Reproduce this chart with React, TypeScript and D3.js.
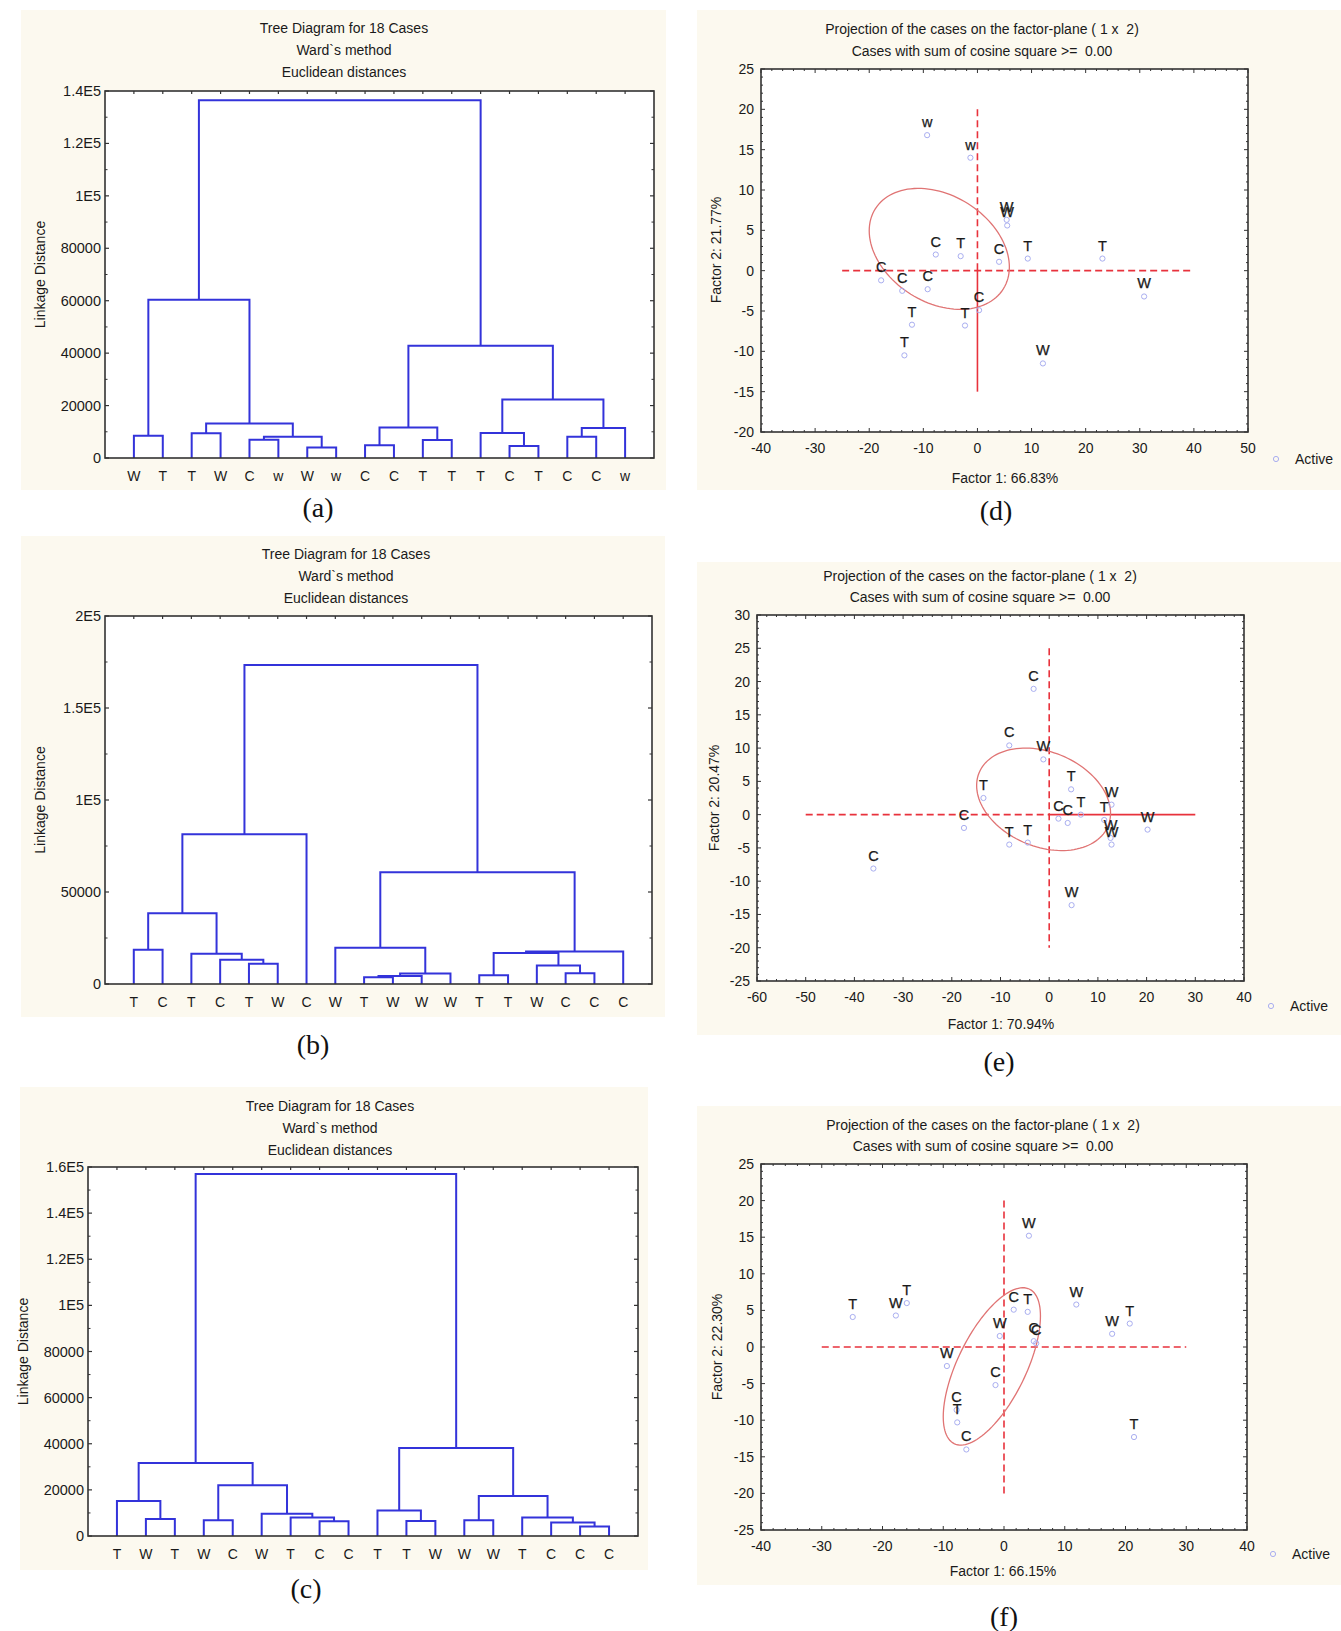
import React from "react";
import * as d3 from "d3";

// ---------- DATA ----------
// Dendrogram (a)
const leavesA = ["W","T","T","W","C","w","W","w","C","C","T","T","T","C","T","C","C","w"];
const mergesA: [number, number, number][] = [
  [0,1,8500],[2,3,9400],[4,5,7000],[6,7,4000],[20,21,8100],[19,22,13200],[18,23,60400],
  [8,9,4900],[10,11,6900],[25,26,11600],[13,14,4600],[12,28,9500],[15,16,8100],[30,17,11400],
  [29,31,22300],[27,32,42800],[24,33,136500]
];
const yTicksA = [0,20000,40000,60000,80000,100000,120000,140000];
const yTickLabelsA = ["0","20000","40000","60000","80000","1E5","1.2E5","1.4E5"];

// Dendrogram (b)
const leavesB = ["T","C","T","C","T","W","C","W","T","W","W","W","T","T","W","C","C","C"];
const mergesB: [number, number, number][] = [
  [0,1,18600],[4,5,11000],[3,19,13200],[2,20,16500],[18,21,38400],[22,6,81400],
  [8,9,3700],[24,10,4400],[25,11,5700],[7,26,19700],[12,13,4700],[15,16,5800],[14,29,10100],
  [28,30,16800],[31,17,17700],[27,32,60800],[23,33,173400]
];
const yTicksB = [0,50000,100000,150000,200000];
const yTickLabelsB = ["0","50000","1E5","1.5E5","2E5"];

// Dendrogram (c)
const leavesC = ["T","W","T","W","C","W","T","C","C","T","T","W","W","W","T","C","C","C"];
const mergesC: [number, number, number][] = [
  [1,2,7400],[0,18,15200],[3,4,6800],[7,8,6400],[6,21,8000],[5,22,9600],[20,23,22000],
  [19,24,31700],[10,11,6500],[9,26,11100],[12,13,6800],[16,17,4100],[15,29,5800],[14,30,8000],
  [28,31,17300],[27,32,38200],[25,33,157000]
];
const yTicksC = [0,20000,40000,60000,80000,100000,120000,140000,160000];
const yTickLabelsC = ["0","20000","40000","60000","80000","1E5","1.2E5","1.4E5","1.6E5"];

// Scatter (d)
const pointsD: [number, number, string][] = [
  [-9.3,16.8,"w"],[-1.3,14.0,"w"],[5.4,6.3,"W"],[5.5,5.6,"W"],[-7.7,2.0,"C"],[-3.1,1.8,"T"],
  [4.0,1.1,"C"],[9.3,1.5,"T"],[23.1,1.5,"T"],[-17.8,-1.2,"C"],[-13.9,-2.5,"C"],[-9.2,-2.3,"C"],
  [30.8,-3.2,"W"],[0.3,-4.9,"C"],[-12.1,-6.7,"T"],[-2.3,-6.8,"T"],[-13.5,-10.5,"T"],[12.1,-11.5,"W"]
];
const xTicksD = [-40,-30,-20,-10,0,10,20,30,40,50];
const yTicksD = [-20,-15,-10,-5,0,5,10,15,20,25];
const ellipseD = { cx: -7.05, cy: 2.7, ax: 12.95, ay: 7.5, rho: -0.3 };
const refLinesD = [
  { x1: -25, y1: 0, x2: 40, y2: 0, dashed: true },
  { x1: 0, y1: 20, x2: 0, y2: 0, dashed: true },
  { x1: 0, y1: 0, x2: 0, y2: -15, dashed: false },
];

// Scatter (e)
const pointsE: [number, number, string][] = [
  [-3.2,18.9,"C"],[-8.2,10.4,"C"],[-1.2,8.3,"W"],[-13.5,2.5,"T"],[4.5,3.8,"T"],[12.8,1.5,"W"],
  [6.5,0.0,"T"],[1.9,-0.6,"C"],[3.8,-1.25,"C"],[11.3,-0.8,"T"],[12.6,-3.5,"W"],[12.8,-4.5,"W"],
  [20.2,-2.25,"W"],[-17.5,-2.0,"C"],[-8.2,-4.5,"T"],[-4.4,-4.2,"T"],[-36.1,-8.1,"C"],[4.6,-13.6,"W"]
];
const xTicksE = [-60,-50,-40,-30,-20,-10,0,10,20,30,40];
const yTicksE = [-25,-20,-15,-10,-5,0,5,10,15,20,25,30];
const ellipseE = { cx: -1.15, cy: 2.3, ax: 13.75, ay: 7.7, rho: -0.27 };
const refLinesE = [
  { x1: -50, y1: 0, x2: 0, y2: 0, dashed: true },
  { x1: 0, y1: 0, x2: 30, y2: 0, dashed: false },
  { x1: 0, y1: 25, x2: 0, y2: -20, dashed: true },
];

// Scatter (f)
const pointsF: [number, number, string][] = [
  [4.1,15.2,"W"],[-24.9,4.1,"T"],[-17.8,4.3,"W"],[-16.0,6.0,"T"],[1.6,5.1,"C"],[3.9,4.8,"T"],
  [11.9,5.8,"W"],[-0.7,1.5,"W"],[4.9,0.8,"C"],[5.3,0.5,"C"],[17.8,1.8,"W"],[20.7,3.2,"T"],
  [-9.4,-2.6,"W"],[-1.4,-5.2,"C"],[-7.8,-8.6,"C"],[-7.7,-10.3,"T"],[-6.2,-14.0,"C"],[21.4,-12.3,"T"]
];
const xTicksF = [-40,-30,-20,-10,0,10,20,30,40];
const yTicksF = [-25,-20,-15,-10,-5,0,5,10,15,20,25];
const ellipseF = { cx: -2.0, cy: -2.65, ax: 8.0, ay: 10.75, rho: 0.64 };
const refLinesF = [
  { x1: -30, y1: 0, x2: 30, y2: 0, dashed: true },
  { x1: 0, y1: 20, x2: 0, y2: -20, dashed: true },
];

const dendroTitles = ["Tree Diagram for 18 Cases", "Ward`s method", "Euclidean distances"];
const scatterTitles = ["Projection of the cases on the factor-plane ( 1 x  2)", "Cases with sum of cosine square >=  0.00"];

// ---------- STYLE ----------
const FONT = "'Liberation Sans', Arial, sans-serif";
const SERIF = "'Liberation Serif', 'Times New Roman', serif";
const CREAM = "#fcf9ef";
const BLUE = "#3333da";
const RED = "#e8323c";
const TXT = "#1a1a1a";

type Frame = { l: number; t: number; r: number; b: number };
type Box = { x: number; y: number; w: number; h: number };

const pre = { whiteSpace: "pre" as const };

function Dendro(props: {
  leaves: string[]; merges: [number, number, number][]; yMax: number; yTicks: number[]; yTickLabels: string[];
  frame: Frame; bg: Box; titleX: number; titleYs: number[]; yLabelX: number; panel: string; panelPos: [number, number];
}) {
  const { leaves, merges, yMax, yTicks, yTickLabels, frame, bg, titleX, titleYs, yLabelX, panel, panelPos } = props;
  const x = d3.scaleLinear().domain([0, leaves.length + 1]).range([frame.l, frame.r]);
  const y = d3.scaleLinear().domain([0, yMax]).range([frame.b, frame.t]);
  const nodes: { x: number; h: number }[] = leaves.map((_, i) => ({ x: i + 1, h: 0 }));
  const paths: string[] = [];
  merges.forEach(([a, b, h]) => {
    const A = nodes[a], B = nodes[b];
    paths.push(`M${x(A.x)},${y(A.h)}V${y(h)}H${x(B.x)}V${y(B.h)}`);
    nodes.push({ x: (A.x + B.x) / 2, h });
  });
  const step = yTicks[1] - yTicks[0];
  const minor = d3.range(step / 2, yMax, step);
  return (
    <g>
      <rect x={bg.x} y={bg.y} width={bg.w} height={bg.h} fill={CREAM} />
      <rect x={frame.l} y={frame.t} width={frame.r - frame.l} height={frame.b - frame.t} fill="#fff" />
      {dendroTitles.map((t, i) => (
        <text key={i} x={titleX} y={titleYs[i]} textAnchor="middle" dominantBaseline="central" fontSize={14} fill={TXT} style={pre}>{t}</text>
      ))}
      {paths.map((p, i) => (
        <path key={i} d={p} fill="none" stroke={BLUE} strokeWidth={2} />
      ))}
      {yTicks.map((v, i) => (
        <g key={i}>
          <line x1={frame.l} x2={frame.l + 4} y1={y(v)} y2={y(v)} stroke="#333" strokeWidth={1.2} />
          <line x1={frame.r} x2={frame.r - 4} y1={y(v)} y2={y(v)} stroke="#333" strokeWidth={1.2} />
          <text x={frame.l - 4} y={y(v)} textAnchor="end" dominantBaseline="central" fontSize={14.5} fill={TXT}>{yTickLabels[i]}</text>
        </g>
      ))}
      {minor.map((v, i) => (
        <g key={"m" + i}>
          <line x1={frame.l} x2={frame.l + 2.5} y1={y(v)} y2={y(v)} stroke="#333" strokeWidth={1} />
          <line x1={frame.r} x2={frame.r - 2.5} y1={y(v)} y2={y(v)} stroke="#333" strokeWidth={1} />
        </g>
      ))}
      {leaves.map((lab, i) => (
        <g key={"l" + i}>
          <line x1={x(i + 1)} x2={x(i + 1)} y1={frame.t} y2={frame.t + 3} stroke="#333" strokeWidth={1.2} />
          <text x={x(i + 1)} y={frame.b + 18} textAnchor="middle" dominantBaseline="central" fontSize={14} fill={TXT}>{lab}</text>
        </g>
      ))}
      <rect x={frame.l} y={frame.t} width={frame.r - frame.l} height={frame.b - frame.t} fill="none" stroke="#333" strokeWidth={1.6} />
      <text transform={`translate(${yLabelX},${(frame.t + frame.b) / 2}) rotate(-90)`} textAnchor="middle" dominantBaseline="central" fontSize={14} fill={TXT}>Linkage Distance</text>
      <text x={panelPos[0]} y={panelPos[1]} textAnchor="middle" dominantBaseline="central" fontSize={28} fontFamily={SERIF} fill="#111">{panel}</text>
    </g>
  );
}

function Scatter(props: {
  pts: [number, number, string][]; xTicks: number[]; yTicks: number[];
  ellipse: { cx: number; cy: number; ax: number; ay: number; rho: number };
  refLines: { x1: number; y1: number; x2: number; y2: number; dashed: boolean }[];
  frame: Frame; bg: Box; titleX: number; titleYs: number[]; xLabel: string; xLabelPos: [number, number];
  yLabel: string; yLabelPos: [number, number]; legendPos: [number, number]; panel: string; panelPos: [number, number];
}) {
  const { pts, xTicks, yTicks, ellipse, refLines, frame, bg, titleX, titleYs, xLabel, xLabelPos, yLabel, yLabelPos, legendPos, panel, panelPos } = props;
  const xd = d3.extent(xTicks) as [number, number];
  const yd = d3.extent(yTicks) as [number, number];
  const x = d3.scaleLinear().domain(xd).range([frame.l, frame.r]);
  const y = d3.scaleLinear().domain(yd).range([frame.b, frame.t]);
  const xMinor = d3.range(xd[0], xd[1] + 0.001, 2);
  const yMinor = d3.range(yd[0], yd[1] + 0.001, 1);
  const phi = Math.acos(ellipse.rho);
  const ell = d3.range(0, 361, 3).map((deg) => {
    const t = (deg * Math.PI) / 180;
    return [x(ellipse.cx + ellipse.ax * Math.cos(t)), y(ellipse.cy + ellipse.ay * Math.cos(t + phi))] as [number, number];
  });
  const ellPath = d3.line()(ell) + "Z";
  return (
    <g>
      <rect x={bg.x} y={bg.y} width={bg.w} height={bg.h} fill={CREAM} />
      <rect x={frame.l} y={frame.t} width={frame.r - frame.l} height={frame.b - frame.t} fill="#fff" />
      {scatterTitles.map((t, i) => (
        <text key={i} x={titleX} y={titleYs[i]} textAnchor="middle" dominantBaseline="central" fontSize={14} fill={TXT} style={pre}>{t}</text>
      ))}
      {refLines.map((l, i) => (
        <line key={i} x1={x(l.x1)} y1={y(l.y1)} x2={x(l.x2)} y2={y(l.y2)} stroke={RED} strokeWidth={1.6} strokeDasharray={l.dashed ? "7,4" : undefined} />
      ))}
      <path d={ellPath} fill="none" stroke="#e07474" strokeWidth={1.3} />
      {pts.map(([px, py, lab], i) => (
        <g key={i}>
          <circle cx={x(px)} cy={y(py)} r={2.6} fill="none" stroke="#a9aef0" strokeWidth={1} />
          <text x={x(px)} y={y(py) - 8} textAnchor="middle" fontSize={14.5} fill={TXT} stroke={TXT} strokeWidth={0.25}>{lab}</text>
        </g>
      ))}
      {xMinor.map((v, i) => {
        const major = xTicks.includes(v);
        const len = major ? 4 : 2;
        return (
          <g key={"xm" + i}>
            <line x1={x(v)} x2={x(v)} y1={frame.b} y2={frame.b - len} stroke="#333" strokeWidth={1} />
            <line x1={x(v)} x2={x(v)} y1={frame.t} y2={frame.t + len} stroke="#333" strokeWidth={1} />
          </g>
        );
      })}
      {yMinor.map((v, i) => {
        const major = yTicks.includes(v);
        const len = major ? 4 : 2;
        return (
          <g key={"ym" + i}>
            <line x1={frame.l} x2={frame.l + len} y1={y(v)} y2={y(v)} stroke="#333" strokeWidth={1} />
            <line x1={frame.r} x2={frame.r - len} y1={y(v)} y2={y(v)} stroke="#333" strokeWidth={1} />
          </g>
        );
      })}
      {xTicks.map((v, i) => (
        <text key={"xt" + i} x={x(v)} y={frame.b + 16} textAnchor="middle" dominantBaseline="central" fontSize={14} fill={TXT}>{String(v)}</text>
      ))}
      {yTicks.map((v, i) => (
        <text key={"yt" + i} x={frame.l - 7} y={y(v)} textAnchor="end" dominantBaseline="central" fontSize={14} fill={TXT}>{String(v)}</text>
      ))}
      <rect x={frame.l} y={frame.t} width={frame.r - frame.l} height={frame.b - frame.t} fill="none" stroke="#333" strokeWidth={1.6} />
      <text x={xLabelPos[0]} y={xLabelPos[1]} textAnchor="middle" dominantBaseline="central" fontSize={14} fill={TXT}>{xLabel}</text>
      <text transform={`translate(${yLabelPos[0]},${yLabelPos[1]}) rotate(-90)`} textAnchor="middle" dominantBaseline="central" fontSize={14} fill={TXT}>{yLabel}</text>
      <circle cx={legendPos[0]} cy={legendPos[1]} r={2.6} fill="none" stroke="#a9aef0" strokeWidth={1} />
      <text x={legendPos[0] + 19} y={legendPos[1]} dominantBaseline="central" fontSize={14} fill={TXT}>Active</text>
      <text x={panelPos[0]} y={panelPos[1]} textAnchor="middle" dominantBaseline="central" fontSize={28} fontFamily={SERIF} fill="#111">{panel}</text>
    </g>
  );
}

export default function App() {
  return (
    <svg width={1341} height={1631} viewBox="0 0 1341 1631" style={{ position: "absolute", left: 0, top: 0, display: "block", background: "#fff" }} fontFamily={FONT}>
      <Dendro leaves={leavesA} merges={mergesA} yMax={140000} yTicks={yTicksA} yTickLabels={yTickLabelsA}
        frame={{ l: 105, t: 91, r: 654, b: 458 }} bg={{ x: 21, y: 10, w: 645, h: 480 }} titleX={344} titleYs={[28, 50, 72]}
        yLabelX={40} panel="(a)" panelPos={[318, 507]} />
      <Dendro leaves={leavesB} merges={mergesB} yMax={200000} yTicks={yTicksB} yTickLabels={yTickLabelsB}
        frame={{ l: 105, t: 616, r: 652, b: 984 }} bg={{ x: 21, y: 536, w: 644, h: 481 }} titleX={346} titleYs={[554, 576, 598]}
        yLabelX={40} panel="(b)" panelPos={[313, 1044]} />
      <Dendro leaves={leavesC} merges={mergesC} yMax={160000} yTicks={yTicksC} yTickLabels={yTickLabelsC}
        frame={{ l: 88, t: 1167, r: 638, b: 1536 }} bg={{ x: 20, y: 1087, w: 628, h: 483 }} titleX={330} titleYs={[1106, 1128, 1150]}
        yLabelX={23} panel="(c)" panelPos={[306, 1588]} />
      <Scatter pts={pointsD} xTicks={xTicksD} yTicks={yTicksD} ellipse={ellipseD} refLines={refLinesD}
        frame={{ l: 761, t: 69, r: 1248, b: 432 }} bg={{ x: 697, y: 10, w: 644, h: 480 }} titleX={982} titleYs={[29, 51]}
        xLabel="Factor 1: 66.83%" xLabelPos={[1005, 478]} yLabel="Factor 2: 21.77%" yLabelPos={[716, 250]}
        legendPos={[1276, 459]} panel="(d)" panelPos={[996, 510]} />
      <Scatter pts={pointsE} xTicks={xTicksE} yTicks={yTicksE} ellipse={ellipseE} refLines={refLinesE}
        frame={{ l: 757, t: 615, r: 1244, b: 981 }} bg={{ x: 697, y: 562, w: 644, h: 473 }} titleX={980} titleYs={[576, 597]}
        xLabel="Factor 1: 70.94%" xLabelPos={[1001, 1024]} yLabel="Factor 2: 20.47%" yLabelPos={[714, 798]}
        legendPos={[1271, 1006]} panel="(e)" panelPos={[999, 1061]} />
      <Scatter pts={pointsF} xTicks={xTicksF} yTicks={yTicksF} ellipse={ellipseF} refLines={refLinesF}
        frame={{ l: 761, t: 1164, r: 1247, b: 1530 }} bg={{ x: 697, y: 1106, w: 644, h: 479 }} titleX={983} titleYs={[1125, 1146]}
        xLabel="Factor 1: 66.15%" xLabelPos={[1003, 1571]} yLabel="Factor 2: 22.30%" yLabelPos={[717, 1347]}
        legendPos={[1273, 1554]} panel="(f)" panelPos={[1004, 1616]} />
    </svg>
  );
}
